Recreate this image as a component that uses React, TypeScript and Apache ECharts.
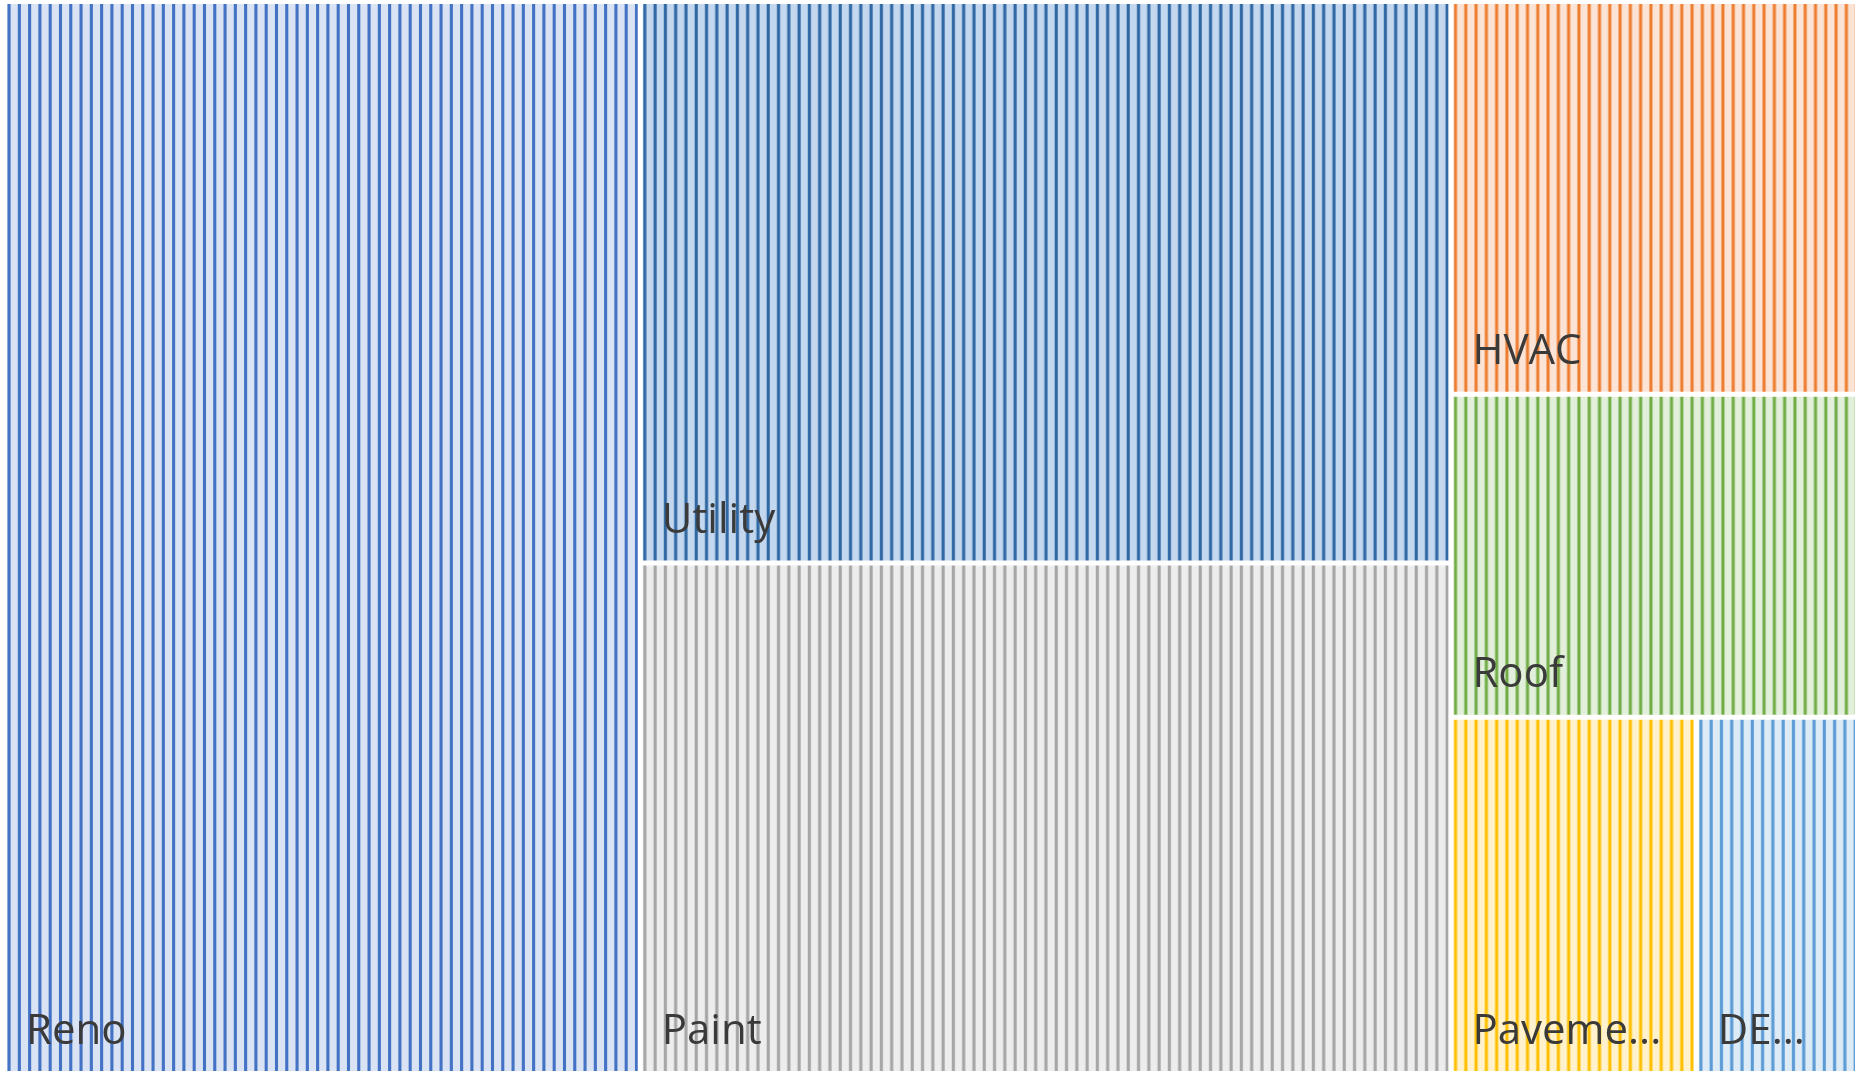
import React, { useEffect, useRef } from "react";
import * as echarts from "echarts";

const categories = ["Reno", "Utility", "Paint", "HVAC", "Roof", "Pavement", "DEMO"];
const values = [3431, 2292, 2083, 804, 661, 440, 289];
const fillColors = ["#dae3f3", "#c3d8ee", "#ededed", "#fbe4d5", "#e2efda", "#fff2cc", "#ddebf7"];
const stripeColors = ["#4472c4", "#2f67a3", "#a5a5a5", "#ed7d31", "#70ad47", "#ffc000", "#5b9bd5"];

function stripePattern(bg: string, fg: string) {
  const w = 72;
  const n = 7;
  const period = w / n;
  const c = document.createElement("canvas");
  c.width = w;
  c.height = 8;
  const ctx = c.getContext("2d")!;
  ctx.fillStyle = bg;
  ctx.fillRect(0, 0, w, 8);
  ctx.fillStyle = fg;
  for (let k = 0; k < n; k++) ctx.fillRect(k * period + 0.5, 0, 3.1, 8);
  return { image: c, repeat: "repeat" as const };
}

export default function App() {
  const ref = useRef<HTMLDivElement>(null);
  useEffect(() => {
    const chart = echarts.init(ref.current!, null, { renderer: "svg" });
    chart.setOption({
      animation: false,
      series: [
        {
          type: "treemap",
          left: 7,
          top: 4,
          width: 1848,
          height: 1067,
          squareRatio: 1,
          sort: "desc",
          roam: false,
          nodeClick: false,
          silent: true,
          breadcrumb: { show: false },
          itemStyle: { borderWidth: 0, gapWidth: 5, borderColor: "#ffffff" },
          label: {
            show: true,
            position: ["0%", "100%"],
            offset: [19, -65],
            padding: [0, 46, 0, 0],
            distance: 0,
            color: "#3a3a3a",
            fontSize: 42,
            lineHeight: 42,
            fontFamily: "Open Sans",
            overflow: "truncate",
            ellipsis: "...",
          },
          upperLabel: { show: false },
          data: categories.map((name, i) => ({
            name,
            value: values[i],
            itemStyle: { color: stripePattern(fillColors[i], stripeColors[i]) },
          })),
        },
      ],
    });
    return () => chart.dispose();
  }, []);
  return (
    <div
      ref={ref}
      style={{ position: "fixed", left: 0, top: 0, width: 1865, height: 1074 }}
    />
  );
}
